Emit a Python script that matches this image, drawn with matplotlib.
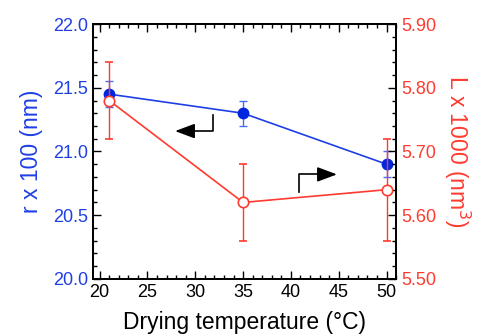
import matplotlib
matplotlib.use("Agg")
from matplotlib import pyplot as plt
from matplotlib.ticker import MultipleLocator, FormatStrFormatter

plt.rcParams['font.family'] = ['Liberation Sans', 'DejaVu Sans']

# data
temp = [21, 35, 50]
r_val = [21.45, 21.30, 20.90]
r_err = [0.10, 0.10, 0.10]
L_val = [5.78, 5.62, 5.64]
L_err = [0.06, 0.06, 0.08]

blue = '#1f3fe6'
red = '#ff3b30'

fig = plt.figure(figsize=(4.79, 3.34), dpi=100)
ax = fig.add_axes([0.194, 0.165, 0.633, 0.763])
ax2 = ax.twinx()

# r on the left axis
ax.errorbar(temp, r_val, yerr=r_err, color=blue, ecolor='#4a6cf0', elinewidth=1,
            capsize=3, capthick=1, marker='o', markersize=7.5, lw=1.2,
            markerfacecolor='#0026e0', markeredgecolor='#0026e0', zorder=3)

# L on the right axis
ax2.errorbar(temp, L_val, yerr=L_err, color=red, ecolor=red, elinewidth=1,
             capsize=3, capthick=1, marker='o', markersize=7.5, lw=1.2,
             markerfacecolor='white', markeredgecolor=red, markeredgewidth=1.2, zorder=3)

ax.set_xlim(19.3, 51)
ax.set_ylim(20.0, 22.0)
ax2.set_ylim(5.50, 5.90)

ax.xaxis.set_major_locator(MultipleLocator(5))
ax.xaxis.set_minor_locator(MultipleLocator(1))
ax.yaxis.set_major_locator(MultipleLocator(0.5))
ax.yaxis.set_minor_locator(MultipleLocator(0.1))
ax2.yaxis.set_major_locator(MultipleLocator(0.1))
ax2.yaxis.set_minor_locator(MultipleLocator(0.02))
ax.yaxis.set_major_formatter(FormatStrFormatter('%.1f'))
ax2.yaxis.set_major_formatter(FormatStrFormatter('%.2f'))

ax.tick_params(axis='x', which='both', direction='in', top=True, labelsize=13, colors='black', pad=4)
ax.tick_params(axis='y', which='both', direction='in', right=False, labelsize=13, labelcolor=blue)
ax2.tick_params(axis='y', which='both', direction='in', labelsize=13, labelcolor=red)
for a in (ax, ax2):
    a.tick_params(which='major', length=6, width=1)
    a.tick_params(which='minor', length=3, width=1)
    for s in a.spines.values():
        s.set_linewidth(1.3)

ax.set_xlabel('Drying temperature (\u00b0C)', fontsize=16.5, labelpad=7)
ax.set_ylabel('r x 100 (nm)', fontsize=16.5, color=blue, labelpad=7)
ax2.set_ylabel('L x 1000 (nm$^3$)', fontsize=16.5, color=red, rotation=270, labelpad=26)

# arrows pointing to the axis each curve belongs to
arrow = dict(arrowstyle='-|>,head_length=1.2,head_width=0.45', color='black', lw=1.2)
ax.plot([31.9, 31.9, 29.0], [21.29, 21.16, 21.16], color='black', lw=1.2)
ax.annotate('', xy=(27.6, 21.16), xytext=(29.6, 21.16), arrowprops=arrow)
ax.plot([40.8, 40.8, 43.6], [20.685, 20.82, 20.82], color='black', lw=1.2)
ax.annotate('', xy=(45.1, 20.82), xytext=(43.1, 20.82), arrowprops=arrow)

plt.savefig('out.png', dpi=100)
